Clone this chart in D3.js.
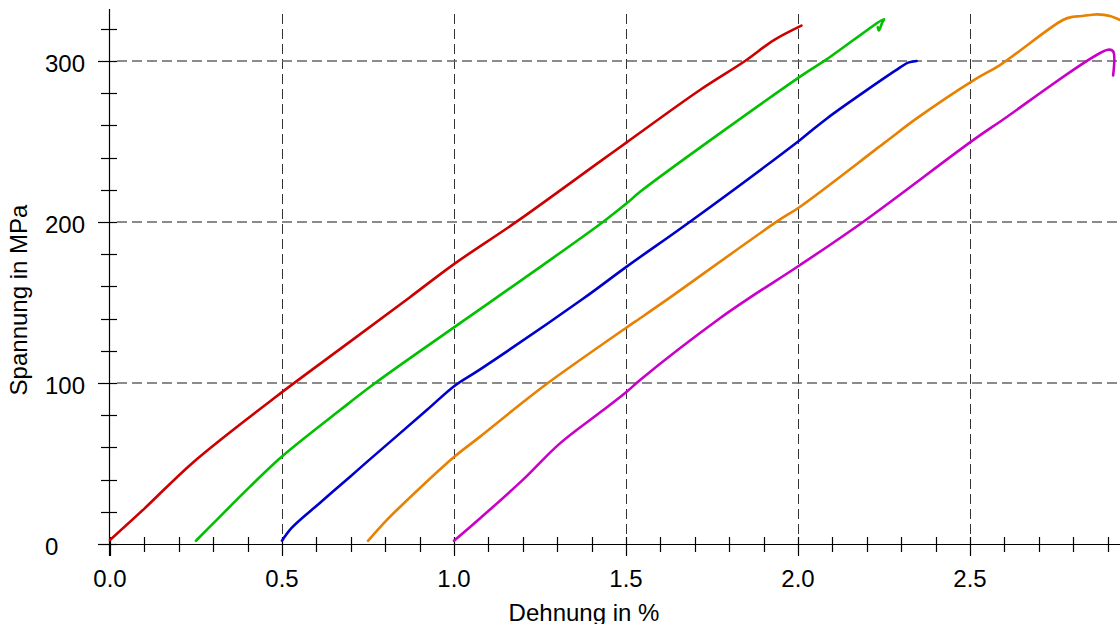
<!DOCTYPE html>
<html>
<head>
<meta charset="utf-8">
<script src="https://cdn.jsdelivr.net/npm/d3@7"></script>
<style>
  body { margin: 0; background: #fff; }
  svg { display: block; font-family: "Liberation Sans", Arial, sans-serif; }
</style>
</head>
<body>
<div id="chart"></div>
<script>
// Dehnung (%) / Spannung (MPa), one array pair per curve
var redStrain     = [0.0, 0.1, 0.243, 0.4826, 0.698, 0.87, 1.003, 1.182, 1.424, 1.502, 1.715, 1.846, 1.93, 2.01];
var redStress     = [2.5, 22, 51, 91.5, 125.7, 153, 174.3, 200.2, 237.5, 249.5, 282, 300, 313, 322];

var greenStrain   = [0.25, 0.30, 0.407, 0.499, 0.669, 0.770, 1.003, 1.25, 1.434, 1.502, 1.541, 2.006, 2.083, 2.25, 2.245, 2.235, 2.232];
var greenStress   = [2, 12.8, 35.6, 54.2, 83.2, 99.8, 135, 172, 200.2, 211.6, 218.8, 290.3, 301, 326, 324, 319, 321];

var blueStrain    = [0.5, 0.528, 0.61, 0.698, 0.747, 0.921, 1.003, 1.076, 1.376, 1.502, 1.686, 2.006, 2.085, 2.297, 2.32, 2.345];
var blueStress    = [2, 10, 25.5, 41.8, 51, 83.2, 98.5, 108.5, 152.5, 172.3, 200.2, 251, 264.5, 296, 299, 300];

var orangeStrain  = [0.75, 0.805, 0.843, 1.0, 1.076, 1.172, 1.272, 1.502, 1.541, 1.618, 1.938, 2.006, 2.25, 2.346, 2.51, 2.587, 2.77, 2.8, 2.82, 2.849, 2.87, 2.907, 2.936];
var orangeStress  = [2, 15, 23, 54, 66.7, 83.2, 99.8, 134.5, 140.2, 151.6, 200.2, 209.5, 249, 264.5, 288, 297.5, 325.5, 327.5, 327.8, 328.6, 329, 328, 325.5];

var magentaStrain = [1.0, 1.076, 1.2, 1.308, 1.434, 1.502, 1.541, 1.773, 1.86, 2.006, 2.19, 2.51, 2.587, 2.901, 2.916, 2.916];
var magentaStress = [2, 16, 39.8, 62.5, 83.2, 94.6, 101.9, 140.2, 153, 173.3, 200.2, 251, 262.3, 307, 306, 291];

var curveColors = ["#cc0000", "#00c000", "#0000cc", "#e88000", "#c800c8"];

var xMajorTicks = [0.0, 0.5, 1.0, 1.5, 2.0, 2.5];
var xTickLabels = ["0.0", "0.5", "1.0", "1.5", "2.0", "2.5"];
var yMajorTicks = [0, 100, 200, 300];
var yTickLabels = ["0", "100", "200", "300"];

var xTitle = "Dehnung in %";
var yTitle = "Spannung in MPa";

var width = 1120, height = 624;
var fontSize = 24;

// axis origin at (110,544); 344 px per 1 %, 1.61 px per MPa
var x = d3.scaleLinear().domain([0, 2.936]).range([110, 1120]);
var y = d3.scaleLinear().domain([0, 332]).range([544, 9.5]);

var svg = d3.select("#chart").append("svg")
    .attr("width", width).attr("height", height);

// minor ticks: every 0.1 % and every 20 MPa
var xMinor = d3.range(0, 30).map(function (i) { return i / 10; })
    .filter(function (v) { return v <= 2.936; });
var yMinor = d3.range(0, 17).map(function (i) { return i * 20; });

// grid lines (dashed)
svg.append("g")
    .attr("stroke", "#333")
    .attr("stroke-width", 1)
    .attr("stroke-dasharray", "10,5")
    .selectAll("line").data(xMajorTicks.slice(1))
    .enter().append("line")
    .attr("x1", function (d) { return Math.round(x(d)) + 0.5; })
    .attr("x2", function (d) { return Math.round(x(d)) + 0.5; })
    .attr("y1", 14).attr("y2", 556);

svg.append("g")
    .attr("stroke", "#666")
    .attr("stroke-width", 1.6)
    .attr("stroke-dasharray", "10,5")
    .selectAll("line").data(yMajorTicks.slice(1))
    .enter().append("line")
    .attr("x1", 117).attr("x2", width)
    .attr("y1", function (d) { return Math.round(y(d)); })
    .attr("y2", function (d) { return Math.round(y(d)); });

// axes
var ax = svg.append("g").attr("stroke", "#000").attr("stroke-width", 1.2);
var x0 = Math.round(x(0)) - 0.5, y0 = Math.round(y(0)) + 0.5;
ax.append("line").attr("x1", 98).attr("x2", width).attr("y1", y0).attr("y2", y0);
ax.append("line").attr("x1", x0).attr("x2", x0).attr("y1", 9).attr("y2", 556);

ax.selectAll("line.xt").data(xMinor)
    .enter().append("line")
    .attr("x1", function (d) { return Math.round(x(d)) + 0.5; })
    .attr("x2", function (d) { return Math.round(x(d)) + 0.5; })
    .attr("y1", 537)
    .attr("y2", function (d) { return (Math.abs(d * 2 - Math.round(d * 2)) < 1e-6) ? 556 : 552; });

ax.selectAll("line.yt").data(yMinor)
    .enter().append("line")
    .attr("y1", function (d) { return Math.round(y(d)) + 0.5; })
    .attr("y2", function (d) { return Math.round(y(d)) + 0.5; })
    .attr("x2", 117)
    .attr("x1", function (d) { return (d % 100 === 0) ? 98 : 101; });

// tick labels
svg.selectAll("text.xl").data(xMajorTicks)
    .enter().append("text")
    .attr("x", function (d) { return x(d); })
    .attr("y", 587)
    .attr("text-anchor", "middle")
    .attr("font-size", fontSize)
    .text(function (d, i) { return xTickLabels[i]; });

svg.selectAll("text.yl").data(yMajorTicks)
    .enter().append("text")
    .attr("x", 45)
    .attr("y", function (d) { return y(d) + 10.5; })
    .attr("text-anchor", "start")
    .attr("font-size", fontSize)
    .text(function (d, i) { return yTickLabels[i]; });

// axis titles
svg.append("text")
    .attr("x", 584).attr("y", 620.5)
    .attr("text-anchor", "middle")
    .attr("font-size", fontSize)
    .text(xTitle);

svg.append("text")
    .attr("transform", "translate(27,300) rotate(-90)")
    .attr("text-anchor", "middle")
    .attr("font-size", fontSize)
    .text(yTitle);

// curves
var curves = [
    [redStrain, redStress],
    [greenStrain, greenStress],
    [blueStrain, blueStress],
    [orangeStrain, orangeStress],
    [magentaStrain, magentaStress]
];

// catmull-rom passes through every read point and copes with the hook at the ends
var line = d3.line()
    .curve(d3.curveCatmullRom.alpha(0.5))
    .x(function (d) { return x(d[0]); })
    .y(function (d) { return y(d[1]); });

svg.append("g").selectAll("path")
    .data(curves)
    .enter().append("path")
    .attr("d", function (c) { return line(d3.zip(c[0], c[1])); })
    .attr("fill", "none")
    .attr("stroke", function (c, i) { return curveColors[i]; })
    .attr("stroke-width", 2.6)
    .attr("stroke-linejoin", "round")
    .attr("stroke-linecap", "round");
</script>
</body>
</html>
